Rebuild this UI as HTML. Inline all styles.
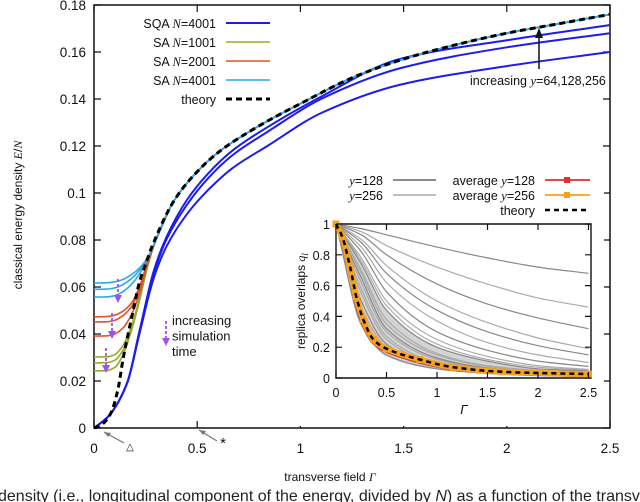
<!DOCTYPE html>
<html><head><meta charset="utf-8">
<style>
html,body{margin:0;padding:0;background:#fff;width:640px;height:502px;overflow:hidden}
svg{display:block}
text{font-family:"Liberation Sans",sans-serif;fill:#111}
.capwrap{position:absolute;left:0;top:486px;width:640px;height:16px;overflow:hidden}
.cap{font-family:"Liberation Sans",sans-serif;font-size:16px;position:absolute;left:-2px;top:2px;white-space:nowrap;color:#222}
</style></head>
<body>
<svg id="chart" width="640" height="502" viewBox="0 0 640 502" xmlns="http://www.w3.org/2000/svg"></svg>
<div class="capwrap"><div class="cap">density (i.e., longitudinal component of the energy, divided by <i>N</i>) as a function of the transverse field <i>Γ</i> (si</div></div>
<script>
// ---- main chart data ----
const xTicks = [0,0.5,1,1.5,2,2.5];
const xTickLabels = ["0","0.5","1","1.5","2","2.5"];
const yTicks = [0,0.02,0.04,0.06,0.08,0.1,0.12,0.14,0.16,0.18];
const yTickLabels = ["0","0.02","0.04","0.06","0.08","0.1","0.12","0.14","0.16","0.18"];
const theoryG = [0,0.03,0.08,0.115,0.14,0.165,0.19,0.22,0.255,0.28,0.39,0.51,0.62,0.76,0.88,1.0,1.25,1.5,1.75,2.0,2.25,2.5];
const theoryE = [0,0.001,0.006,0.016,0.029,0.040,0.050,0.062,0.071,0.077,0.097,0.110,0.1185,0.1265,0.1325,0.138,0.149,0.157,0.163,0.168,0.172,0.176];
const sqaG = [0,0.07,0.16,0.22,0.29,0.35,0.45,0.55,0.67,0.84,1.1,1.48,2.0,2.5];
const sqaLow = [0,0.005,0.019,0.040,0.064,0.077,0.091,0.101,0.1105,0.120,0.134,0.146,0.154,0.160];
const sqaMid = [0,0.005,0.019,0.041,0.066,0.080,0.095,0.106,0.116,0.126,0.140,0.153,0.162,0.168];
const sqaHigh = [0,0.005,0.019,0.041,0.067,0.081,0.097,0.108,0.118,0.128,0.141,0.157,0.165,0.1715];
const saG = [0,0.06,0.1,0.14,0.18,0.22,0.26,0.3,0.39,0.51,0.62,0.76,0.88,1.0,1.25,1.5,1.75,2.0,2.25,2.5];
const saTail = [0.097,0.110,0.1185,0.1265,0.1325,0.138,0.149,0.157,0.163,0.168,0.172,0.176];
const saCyan1 = [0.0617,0.0618,0.0622,0.0632,0.0652,0.0680,0.0725,0.080];
const saCyan2 = [0.059,0.0591,0.0596,0.061,0.0635,0.067,0.0722,0.080];
const saCyan3 = [0.0557,0.0558,0.0563,0.058,0.061,0.0655,0.072,0.080];
const saRed1 = [0.0473,0.0474,0.048,0.0497,0.053,0.060,0.071,0.080];
const saRed2 = [0.0451,0.0452,0.0458,0.0478,0.0515,0.059,0.0705,0.080];
const saRed3 = [0.0391,0.0392,0.040,0.0425,0.048,0.057,0.070,0.080];
const saGreen1 = [0.0302,0.0303,0.0312,0.035,0.043,0.055,0.0695,0.080];
const saGreen2 = [0.0277,0.0278,0.0288,0.033,0.042,0.0545,0.069,0.080];
const saGreen3 = [0.0243,0.0244,0.0257,0.031,0.041,0.054,0.069,0.080];
// ---- inset data ----
const inXTicks = [0,0.5,1,1.5,2,2.5];
const inXTickLabels = ["0","0.5","1","1.5","2","2.5"];
const inYTicks = [0,0.2,0.4,0.6,0.8,1];
const inYTickLabels = ["0","0.2","0.4","0.6","0.8","1"];
const inG = [0,0.25,0.5,1,1.5,2,2.5];
const grayDark = [
 [1,.97,.93,.85,.78,.72,.68],[1,.93,.80,.61,.48,.39,.32],[1,.88,.68,.44,.30,.21,.15],
 [1,.82,.56,.30,.18,.11,.075],[1,.74,.44,.20,.11,.06,.045],[1,.65,.32,.13,.065,.04,.03],
 [1,.50,.22,.08,.04,.025,.015],[1,.35,.15,.06,.03,.015,.01]];
const grayLight = [
 [1,.95,.86,.72,.61,.52,.46],[1,.90,.73,.50,.36,.26,.19],[1,.85,.62,.37,.23,.15,.10],
 [1,.78,.50,.25,.14,.08,.055],[1,.70,.38,.16,.08,.05,.035],[1,.58,.27,.10,.05,.03,.02],
 [1,.42,.18,.07,.035,.02,.012],[1,.76,.47,.22,.12,.07,.05],[1,.68,.35,.15,.075,.045,.032],
 [1,.62,.30,.12,.06,.035,.025],[1,.55,.25,.09,.045,.028,.018],[1,.46,.20,.075,.038,.022,.014]];
const avgG = [0,0.06,0.14,0.2,0.27,0.37,0.5,0.83,1.16,1.65,2.5];
const avg256 = [1,0.92,0.72,0.53,0.38,0.25,0.19,0.12,0.07,0.04,0.025];
const avg128 = [1,0.91,0.70,0.51,0.36,0.24,0.18,0.11,0.065,0.037,0.022];
const inTheory = [1,0.92,0.72,0.53,0.38,0.25,0.19,0.12,0.07,0.04,0.025];
const bandUpper=[1,.74,.44,.20,.11,.06,.045];
const bandLower=[1,.33,.14,.055,.028,.014,.009];

const NS="http://www.w3.org/2000/svg";
const svg=document.getElementById('chart');
function mk(tag,attrs,parent){const e=document.createElementNS(NS,tag);for(const k in attrs)e.setAttribute(k,attrs[k]);(parent||svg).appendChild(e);return e;}
const X=g=>94+g*206.4, Y=e=>428-e*2350;
const IX=g=>336+g*101, IY=q=>378-q*154;
// monotone cubic (Fritsch-Carlson) path through data points (works in either x direction)
function spath(gs,vs,fx,fy){
 const xs=gs.map(fx), ys=vs.map(fy), n=xs.length;
 const d=[],m=new Array(n);
 for(let i=0;i<n-1;i++)d.push((ys[i+1]-ys[i])/(xs[i+1]-xs[i]));
 m[0]=d[0];m[n-1]=d[n-2];
 for(let i=1;i<n-1;i++){ if(d[i-1]*d[i]<=0)m[i]=0; else { const a=Math.abs(xs[i+1]-xs[i]), b=Math.abs(xs[i]-xs[i-1]); const w1=2*a+b, w2=a+2*b; m[i]=(w1+w2)/(w1/d[i-1]+w2/d[i]); } }
 let s='M'+xs[0].toFixed(1)+','+ys[0].toFixed(1);
 for(let i=0;i<n-1;i++){const h=(xs[i+1]-xs[i])/3;
  s+=` C${(xs[i]+h).toFixed(1)},${(ys[i]+m[i]*h).toFixed(1)} ${(xs[i+1]-h).toFixed(1)},${(ys[i+1]-m[i+1]*h).toFixed(1)} ${xs[i+1].toFixed(1)},${ys[i+1].toFixed(1)}`;}
 return s;
}
function saFull(arr){return arr.concat(saTail);}

let fr=mk('rect',{x:94,y:5,width:516,height:423,fill:'none',stroke:'#111','stroke-width':1.5});

xTicks.forEach((t,i)=>{
 let l=mk('path',{d:`M${X(t)},428v-7M${X(t)},5v7`,stroke:'#111','stroke-width':1.2});
 
 let tx=mk('text',{x:X(t),y:453,'text-anchor':'middle','font-size':13.5});tx.textContent=xTickLabels[i];
 
});
yTicks.forEach((t,i)=>{
 let l=mk('path',{d:`M94,${Y(t)}h7M610,${Y(t)}h-7`,stroke:'#111','stroke-width':1.2});
 
 let tx=mk('text',{x:86,y:Y(t)+5,'text-anchor':'end','font-size':13.5});tx.textContent=yTickLabels[i];
 
});
let yt=mk('text',{x:0,y:0,'text-anchor':'middle','font-size':12,transform:'translate(22,215) rotate(-90)'});
yt.innerHTML='classical energy density <tspan font-family="Liberation Serif" font-style="italic">E</tspan>/<tspan font-family="Liberation Serif" font-style="italic">N</tspan>';

let xt=mk('text',{x:330,y:481,'text-anchor':'middle','font-size':12});
xt.innerHTML='transverse field <tspan font-family="Liberation Serif" font-style="italic">Γ</tspan>';


[sqaLow,sqaMid,sqaHigh].forEach(s=>{
 let p=mk('path',{d:spath(sqaG,s,X,Y),fill:'none',stroke:'#1c1cf0','stroke-width':2});
 
});
[[saGreen1,'#9aa82a'],[saGreen2,'#9aa82a'],[saGreen3,'#9aa82a'],[saRed1,'#e0502a'],[saRed2,'#e0502a'],[saRed3,'#e0502a'],[saCyan1,'#2aa8e8'],[saCyan2,'#2aa8e8'],[saCyan3,'#2aa8e8']].forEach(([s,c])=>{
 let p=mk('path',{d:spath(saG,saFull(s),X,Y),fill:'none',stroke:c,'stroke-width':1.6});
 
});
let th=mk('path',{d:spath(theoryG,theoryE,X,Y),fill:'none',stroke:'#000','stroke-width':3,'stroke-dasharray':'6,4'});


[[118,279,302],[112,313,338],[106,348,372],[166,321,345]].forEach(a=>{
 let g=mk('g',{});
 mk('path',{d:`M${a[0]},${a[1]}V${a[2]-6}`,stroke:'#a050f0','stroke-width':1.8,'stroke-dasharray':'3,2'},g);
 mk('path',{d:`M${a[0]-4},${a[2]-7}L${a[0]+4},${a[2]-7}L${a[0]},${a[2]+1}Z`,fill:'#a050f0'},g);
});
let it=mk('text',{x:172,y:325,'font-size':13});
it.innerHTML='<tspan x="172">increasing</tspan><tspan x="172" dy="15.5">simulation</tspan><tspan x="172" dy="15.5">time</tspan>';


let ba=mk('g',{});
mk('path',{d:'M539,69V34',stroke:'#111','stroke-width':1.5},ba);
mk('path',{d:'M535,38L543,38L539,28Z',fill:'#111'},ba);
let ya=mk('text',{x:470,y:85,'font-size':12.5});
ya.innerHTML='increasing <tspan font-family="Liberation Serif" font-style="italic">y</tspan>=64,128,256';


[[128,446,104,432,'△'],[221,444,199,430,'*']].forEach(a=>{
 let g=mk('g',{});
 mk('path',{d:`M${a[0]-4},${a[1]-3}L${a[2]},${a[3]}`,stroke:'#777','stroke-width':1.2},g);
 mk('path',{d:`M${a[2]},${a[3]}l7,1l-3,4z`,fill:'#777'},g);
 let t=mk('text',{x:a[0]+2,y:a[1]+4,'font-size':a[4]=='*'?15:10,fill:'#777','text-anchor':'middle'},g);t.textContent=a[4];
});

const legNames=[['SQA ','4001','#1c1cf0'],['SA ','1001','#9aa82a'],['SA ','2001','#e0502a'],['SA ','4001','#2aa8e8']];
legNames.forEach((l,i)=>{
 let y=23+i*19;
 let g=mk('g',{});
 let t=mk('text',{x:216,y:y+5,'text-anchor':'end','font-size':12.5},g);
 t.innerHTML=l[0]+'<tspan font-family="Liberation Serif" font-style="italic">N</tspan>='+l[1];
 mk('path',{d:`M226,${y}H270`,stroke:l[2],'stroke-width':l[2]=='#1c1cf0'?2:1.6},g);
});
let lg=mk('g',{});
let tt=mk('text',{x:216,y:104,'text-anchor':'end','font-size':12.5},lg);tt.textContent='theory';
mk('path',{d:'M226,99H270',stroke:'#000','stroke-width':3,'stroke-dasharray':'6,4'},lg);

// ---- inset ----
let bg=mk('rect',{x:292,y:168,width:312,height:258,fill:'#fff'});

let ib=mk('path',{d:'M336,224H591V378H336Z',fill:'none',stroke:'#111','stroke-width':1.4});

let bp=mk('path',{d:spath(inG,bandUpper,IX,IY)+' '+spath(inG.slice().reverse(),bandLower.slice().reverse(),IX,IY).replace('M','L')+'Z',fill:'#b0b0b0',opacity:0.55});

grayLight.forEach(s=>{let p=mk('path',{d:spath(inG,s,IX,IY),fill:'none',stroke:'#aaa','stroke-width':1.2});
 });
grayDark.forEach(s=>{let p=mk('path',{d:spath(inG,s,IX,IY),fill:'none',stroke:'#888','stroke-width':1.2});
 });
let r128=mk('path',{d:spath(avgG,avg128,IX,IY),fill:'none',stroke:'#e0302a','stroke-width':5});

let o256=mk('path',{d:spath(avgG,avg256,IX,IY),fill:'none',stroke:'#f7a21c','stroke-width':6});

avgG.forEach((g,i)=>{let r=mk('rect',{x:IX(g)-3.5,y:IY(avg256[i])-3.5,width:7,height:7,fill:'#f7a21c'});
 });
let itp=mk('path',{d:spath(avgG,inTheory,IX,IY),fill:'none',stroke:'#000','stroke-width':2.5,'stroke-dasharray':'5,4'});

inXTicks.forEach((t,i)=>{
 let l=mk('path',{d:`M${IX(t)},378v-6M${IX(t)},224v6`,stroke:'#111','stroke-width':1.2});
 
 let tx=mk('text',{x:IX(t),y:397,'text-anchor':'middle','font-size':12.5});tx.textContent=inXTickLabels[i];
 
});
inYTicks.forEach((t,i)=>{
 let l=mk('path',{d:`M336,${IY(t)}h6M591,${IY(t)}h-6`,stroke:'#111','stroke-width':1.2});
 
 let tx=mk('text',{x:330,y:IY(t)+5,'text-anchor':'end','font-size':12.5});tx.textContent=inYTickLabels[i];
 
});
let iyt=mk('text',{x:0,y:0,'text-anchor':'middle','font-size':12,transform:'translate(305,301) rotate(-90)'});
iyt.innerHTML='replica overlaps <tspan font-family="Liberation Serif" font-style="italic">q<tspan font-size="9" dy="3">l</tspan></tspan>';

let ixt=mk('text',{x:464,y:414,'text-anchor':'middle','font-size':13,'font-family':'Liberation Serif','font-style':'italic'});ixt.textContent='Γ';

[['128','#666',180],['256','#aaa',195]].forEach(l=>{
 let g=mk('g',{});
 let t=mk('text',{x:383,y:l[2]+5,'text-anchor':'end','font-size':12.5},g);
 t.innerHTML='<tspan font-family="Liberation Serif" font-style="italic">y</tspan>='+l[0];
 mk('path',{d:`M393,${l[2]}H436`,stroke:l[1],'stroke-width':1.5},g);
});
[['128','#e0302a',180],['256','#f7a21c',195]].forEach(l=>{
 let g=mk('g',{});
 let t=mk('text',{x:535,y:l[2]+5,'text-anchor':'end','font-size':12.5},g);
 t.innerHTML='average <tspan font-family="Liberation Serif" font-style="italic">y</tspan>='+l[0];
 mk('path',{d:`M545,${l[2]}H590`,stroke:l[1],'stroke-width':1.8},g);
 mk('rect',{x:564,y:l[2]-3,width:6,height:6,fill:l[1]},g);
});
let ilt=mk('g',{});
let itt=mk('text',{x:535,y:215,'text-anchor':'end','font-size':12.5},ilt);itt.textContent='theory';
mk('path',{d:'M545,210H590',stroke:'#000','stroke-width':2.5,'stroke-dasharray':'5,4'},ilt);
</script>
</body></html>
